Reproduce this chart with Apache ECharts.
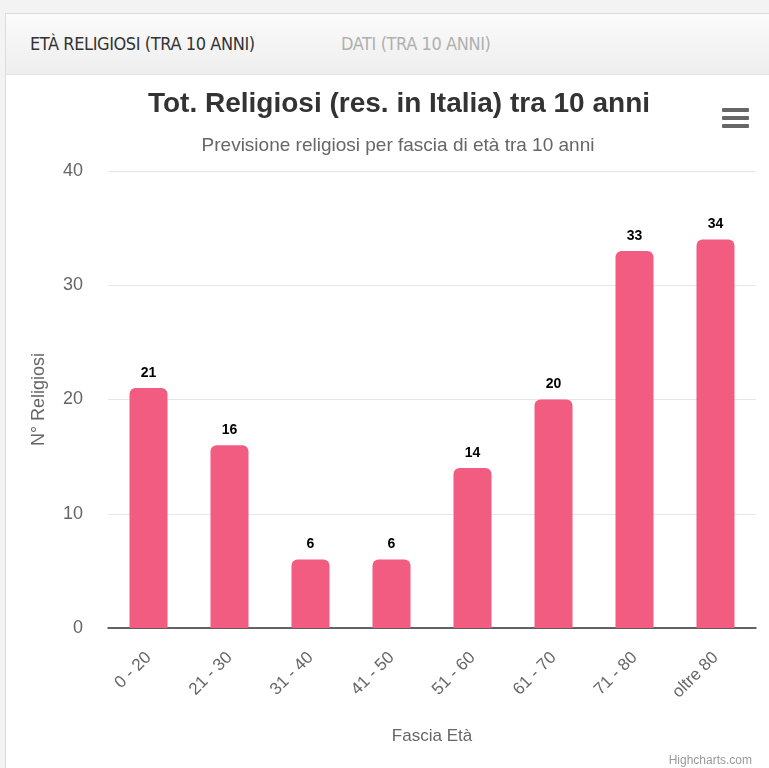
<!DOCTYPE html>
<html>
<head>
<meta charset="utf-8">
<script src="https://cdn.jsdelivr.net/npm/echarts@6/dist/echarts.min.js"></script>
<style>
  html, body { margin: 0; padding: 0; background: #f3f3f3; }
  .panel {
    position: absolute; left: 5px; top: 13px; width: 770px; height: 760px;
    border: 1px solid #dcdcdc; background: #fff;
  }
  .tabs {
    position: absolute; left: 0; top: 0; right: 0; height: 60px;
    background: linear-gradient(#fbfbfb, #eeeeee);
    border-bottom: 1px solid #e2e2e2;
    font-family: "DejaVu Sans Condensed", "DejaVu Sans", sans-serif;
    font-stretch: condensed; font-size: 18px;
  }
  .tab { position: absolute; top: 19px; letter-spacing: -0.4px; }
  .tab.active { left: 24px; color: #333; }
  .tab.off { left: 335px; color: #b0b0b0; }
  #chart { position: absolute; left: 0; top: 0; width: 769px; height: 768px; }
</style>
</head>
<body>
<div class="panel">
  <div class="tabs">
    <span class="tab active">ETÀ RELIGIOSI (TRA 10 ANNI)</span>
    <span class="tab off">DATI (TRA 10 ANNI)</span>
  </div>
</div>
<div id="chart"></div>
<script>
// fasce di età e valori previsti
const fasce = ['0 - 20', '21 - 30', '31 - 40', '41 - 50', '51 - 60', '61 - 70', '71 - 80', 'oltre 80'];
const religiosi = [21, 16, 6, 6, 14, 20, 33, 34];

const chart = echarts.init(document.getElementById('chart'));
const font = 'Liberation Sans, Arial, sans-serif';

let option = {
  animation: false,
  title: [
    {
      text: 'Tot. Religiosi (res. in Italia) tra 10 anni',
      left: 394,
      top: 85,
      textAlign: 'center',
      textStyle: { fontFamily: font, fontSize: 28, fontWeight: 'bold', color: '#333' },
    },
    {
      text: 'Previsione religiosi per fascia di età tra 10 anni',
      left: 393,
      top: 131,
      textAlign: 'center',
      textStyle: { fontFamily: font, fontSize: 19, fontWeight: 'normal', color: '#666' },
    },
    {
      text: 'Highcharts.com',
      right: 12,
      top: 750,
      textStyle: { fontFamily: font, fontSize: 12, fontWeight: 'normal', color: '#999' },
    },
  ],
  graphic: [
    // menu "hamburger"
    { type: 'rect', shape: { x: 722, y: 108, width: 27, height: 4, r: 1 }, style: { fill: '#666' } },
    { type: 'rect', shape: { x: 722, y: 116, width: 27, height: 4, r: 1 }, style: { fill: '#666' } },
    { type: 'rect', shape: { x: 722, y: 124, width: 27, height: 4, r: 1 }, style: { fill: '#666' } },
  ],
  grid: {
    left: 108,
    right: 13,
    top: 171,
    bottom: 140,
  },
  xAxis: {
    type: 'category',
    data: fasce,
    name: 'Fascia Età',
    nameLocation: 'middle',
    nameGap: 100,
    nameTextStyle: { fontFamily: font, fontSize: 17, color: '#666' },
    axisLine: { lineStyle: { color: '#333', width: 1.5 } },
    axisTick: { show: false },
    axisLabel: {
      rotate: 45,
      margin: 27,
      fontFamily: font,
      fontSize: 17,
      color: '#666',
    },
  },
  yAxis: {
    type: 'value',
    min: 0,
    max: 40,
    interval: 10,
    name: 'N° Religiosi',
    nameLocation: 'middle',
    nameGap: 60,
    nameTextStyle: { fontFamily: font, fontSize: 18, color: '#666' },
    axisLine: { show: false },
    axisTick: { show: false },
    axisLabel: { fontFamily: font, fontSize: 18, color: '#666', margin: 25 },
    splitLine: { lineStyle: { color: '#e6e6e6' } },
  },
  series: [
    {
      name: 'Religiosi',
      type: 'bar',
      data: religiosi,
      barWidth: 38,
      itemStyle: { color: '#f15c80', borderRadius: [6, 6, 0, 0] },
      label: {
        show: true,
        position: 'top',
        distance: 8,
        fontFamily: font,
        fontSize: 14,
        fontWeight: 'bold',
        color: '#000',
        textBorderColor: '#fff',
        textBorderWidth: 2,
      },
    },
  ],
};

chart.setOption(option);
</script>
</body>
</html>
